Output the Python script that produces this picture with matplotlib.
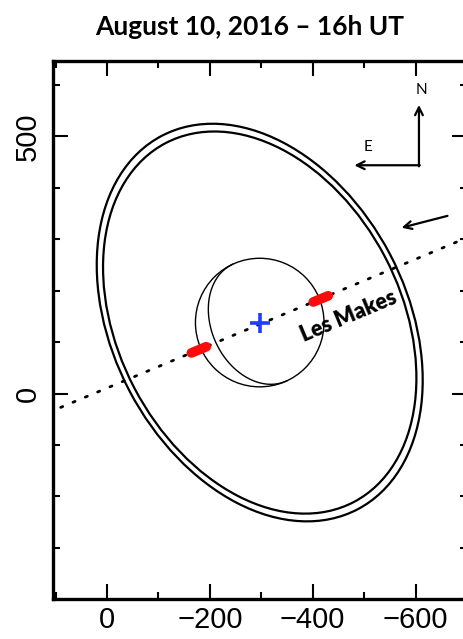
import numpy as np
import matplotlib
matplotlib.use('Agg')
import matplotlib.pyplot as plt
from matplotlib.patches import Ellipse
from matplotlib.ticker import MultipleLocator

# geometry (km)
center = (-297, 138)
ring_a = [410, 394]          # semi-major axes of the two ring ellipses
ring_b = [286, 275]          # semi-minor axes
ring_angle = 62.3            # deg
body_radius = 125
term_angle = 65.2            # orientation of the terminator
term_ratio = 0.75
chord_x = [90, -700]         # Les Makes chord
chord_y = [-27, 303]
det_x = [[-164, -193], [-401, -430]]   # red detections on the chord
det_y = [[79, 91], [178, 190]]

fig = plt.figure(figsize=(4.64, 6.39), dpi=100)
ax = fig.add_axes([0.1142, 0.061, 0.8922, 0.8451])

for a, b in zip(ring_a, ring_b):
    ax.add_patch(Ellipse(center, 2 * a, 2 * b, angle=ring_angle, fill=False, lw=1.6, ec='k'))
ax.add_patch(Ellipse(center, 2 * body_radius, 2 * body_radius, fill=False, lw=1.0, ec='k'))

t = np.linspace(np.pi, 2 * np.pi, 200)
phi = np.radians(term_angle)
lx, ly = body_radius * np.cos(t), term_ratio * body_radius * np.sin(t)
ax.plot(center[0] + lx * np.cos(phi) - ly * np.sin(phi),
        center[1] + lx * np.sin(phi) + ly * np.cos(phi), c='k', lw=1.0)

ax.plot(chord_x, chord_y, c='k', lw=2.0, ls=(0, (0.8, 4)), dash_capstyle='round')
for xs, ys in zip(det_x, det_y):
    ax.plot(xs, ys, c='#ff0a0a', lw=7, solid_capstyle='round')
ax.plot(*center, '+', c='#1f3cff', ms=15, mew=2.6)

ax.text(-470, 150, 'Les Makes', rotation=22.7, ha='center', va='center',
        fontsize=15.5, fontweight='heavy', family='Lato')

# compass and motion arrow
akw = dict(xycoords='axes fraction', textcoords='axes fraction')
ax.annotate('', xy=(0.884, 0.918), xytext=(0.884, 0.804), **akw,
            arrowprops=dict(arrowstyle='->', lw=1.6, color='k', mutation_scale=14, shrinkA=0, shrinkB=0))
ax.annotate('', xy=(0.728, 0.806), xytext=(0.886, 0.806), **akw,
            arrowprops=dict(arrowstyle='->', lw=1.6, color='k', mutation_scale=14, shrinkA=0, shrinkB=0))
ax.text(0.890, 0.946, 'N', transform=ax.transAxes, ha='center', va='center', fontsize=11, family='Lato')
ax.text(0.762, 0.840, 'E', transform=ax.transAxes, ha='center', va='center', fontsize=11, family='Lato')
ax.annotate('', xy=(0.842, 0.690), xytext=(0.953, 0.712), **akw,
            arrowprops=dict(arrowstyle='->', lw=1.6, color='k', mutation_scale=14, shrinkA=0, shrinkB=0))

ax.set_xlim(105, -700)
ax.set_ylim(-400, 647)
ax.set_aspect('equal')
ax.xaxis.set_major_locator(MultipleLocator(200))
ax.xaxis.set_minor_locator(MultipleLocator(100))
ax.yaxis.set_major_locator(MultipleLocator(500))
ax.yaxis.set_minor_locator(MultipleLocator(100))
ax.tick_params(which='both', direction='in', top=True, right=True, width=1.5)
ax.tick_params(which='major', length=10.5)
ax.tick_params(which='minor', length=5)
ax.tick_params(axis='x', pad=5)
ax.tick_params(axis='y', pad=8)
for lab in ax.get_xticklabels() + ax.get_yticklabels():
    lab.set_family('Liberation Sans')
    lab.set_fontsize(21)
for lab in ax.get_yticklabels():
    lab.set_rotation(90)
    lab.set_va('center')
for s in ax.spines.values():
    s.set_linewidth(2.4)

fig.text(0.538, 0.957, 'August 10, 2016 \u2013 16h UT', ha='center', va='center',
         fontsize=19, fontweight='bold', family='Lato')
fig.savefig('out.png', dpi=100)
